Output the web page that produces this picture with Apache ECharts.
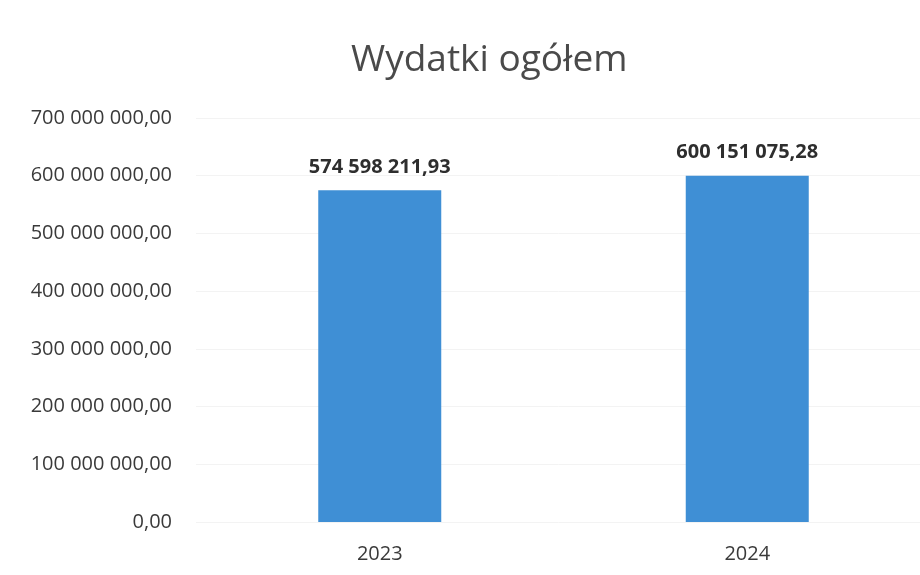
<!DOCTYPE html>
<html>
<head>
<meta charset="utf-8">
<script src="https://cdn.jsdelivr.net/npm/echarts@6/dist/echarts.min.js"></script>
<style>
  html, body { margin: 0; padding: 0; background: #fff; }
  #chart { width: 920px; height: 575px; }
</style>
</head>
<body>
<div id="chart"></div>
<script>
var years = ['2023', '2024'];
var spending = [574598211.93, 600151075.28];
var yMax = 700000000;
var yStep = 100000000;

// 574598211.93 -> "574 598 211,93"
function plNumber(v) {
    var parts = v.toFixed(2).split('.');
    return parts[0].replace(/\B(?=(\d{3})+(?!\d))/g, ' ') + ',' + parts[1];
}

var option = {
    backgroundColor: '#fff',
    textStyle: { fontFamily: 'Open Sans' },
    title: {
        text: 'Wydatki ogółem',
        left: 346,
        top: 37,
        textStyle: {
            fontFamily: 'Open Sans',
            fontSize: 37,
            fontWeight: 'normal',
            color: '#4a4a4a'
        }
    },
    grid: {
        left: 196,
        width: 735,
        top: 118,
        bottom: 53,
        outerBoundsMode: 'none',
        containLabel: false
    },
    xAxis: {
        type: 'category',
        data: years,
        axisLine: { show: false },
        axisTick: { show: false },
        axisLabel: {
            fontSize: 20,
            color: '#3a3a3a',
            margin: 22
        }
    },
    yAxis: {
        type: 'value',
        min: 0,
        max: yMax,
        interval: yStep,
        axisLine: { show: false },
        axisTick: { show: false },
        splitLine: { lineStyle: { color: '#f3f3f3' } },
        axisLabel: {
            fontSize: 20,
            color: '#3a3a3a',
            margin: 24,
            formatter: function (v) { return plNumber(v); }
        }
    },
    series: [
        {
            type: 'bar',
            data: spending,
            barWidth: 123,
            itemStyle: { color: '#3f8fd5' },
            label: {
                show: true,
                position: 'top',
                distance: 13,
                fontSize: 20,
                fontWeight: 'bold',
                color: '#2e2e2e',
                formatter: function (p) { return plNumber(p.value); }
            }
        }
    ]
};

var myChart = echarts.init(document.getElementById('chart'));
myChart.setOption(option);
</script>
</body>
</html>
